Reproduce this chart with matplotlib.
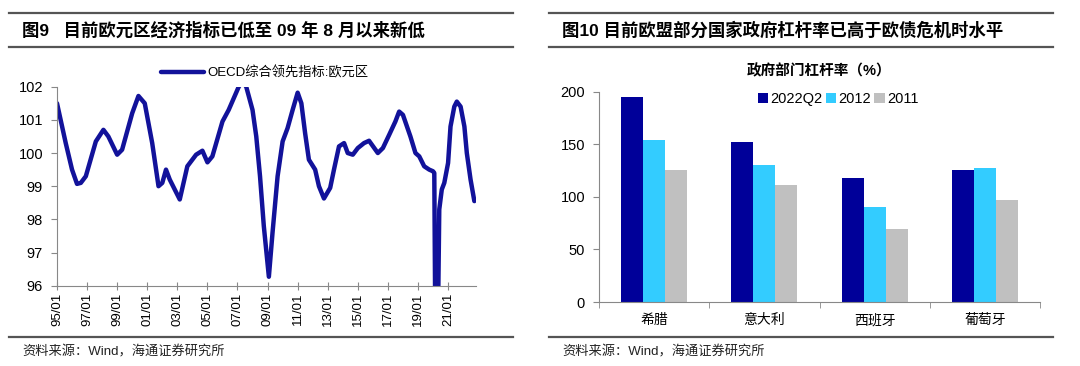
import matplotlib
matplotlib.use("Agg")
import matplotlib.pyplot as plt
import matplotlib.dates as mdates
import numpy as np
import pandas as pd

plt.rcParams['font.family'] = ['Liberation Sans', 'Noto Sans CJK SC']

## Data: OECD composite leading indicator, euro area
cli_dates = ["1995-01", "1995-08", "1996-01", "1996-05", "1996-08", "1996-12",
             "1997-08", "1998-02", "1998-06", "1999-01", "1999-05", "2000-01",
             "2000-06", "2000-11", "2001-05", "2001-10", "2002-01", "2002-04",
             "2002-07", "2003-03", "2003-09", "2004-04", "2004-09", "2005-01",
             "2005-05", "2006-01", "2006-06", "2007-02", "2007-05", "2007-08",
             "2008-01", "2008-04", "2008-07", "2008-10", "2009-02", "2009-05",
             "2009-09", "2010-01", "2010-05", "2010-09", "2011-01", "2011-04",
             "2011-07", "2011-10", "2012-03", "2012-06", "2012-10", "2013-03",
             "2013-06", "2013-10", "2014-02", "2014-05", "2014-09", "2015-01",
             "2015-06", "2015-10", "2016-05", "2016-09", "2017-02", "2017-07",
             "2017-10", "2018-01", "2018-07", "2018-11", "2019-02", "2019-06",
             "2019-10", "2020-01", "2020-02", "2020-03", "2020-04", "2020-05",
             "2020-06", "2020-08", "2020-10", "2021-01", "2021-03", "2021-06",
             "2021-08", "2021-11", "2022-02", "2022-04", "2022-07", "2022-10"]
cli_values = [101.5, 100.3, 99.5, 99.07, 99.1, 99.3,
              100.35, 100.7, 100.5, 99.95, 100.1, 101.2,
              101.72, 101.5, 100.3, 99.0, 99.1, 99.5,
              99.2, 98.6, 99.6, 99.95, 100.07, 99.72,
              99.9, 100.95, 101.3, 102.0, 102.15, 102.0,
              101.3, 100.5, 99.3, 97.8, 96.27, 97.6,
              99.3, 100.35, 100.75, 101.3, 101.82, 101.5,
              100.6, 99.8, 99.5, 99.0, 98.63, 98.95,
              99.5, 100.2, 100.3, 100.0, 99.95, 100.15,
              100.3, 100.37, 100.0, 100.15, 100.55, 100.95,
              101.25, 101.15, 100.5, 100.0, 99.9, 99.6,
              99.5, 99.45, 99.4, 94.0, 93.0, 95.0,
              98.3, 98.9, 99.1, 99.7, 100.8, 101.4,
              101.55, 101.4, 100.8, 100.0, 99.2, 98.55]
tick_years = list(range(1995, 2022, 2))

## Data: government leverage (%)
countries = ["希腊", "意大利", "西班牙", "葡萄牙"]
lev_2022q2 = [194.6, 151.9, 118.4, 125.9]
lev_2012 = [154.1, 130.4, 90.8, 127.2]
lev_2011 = [125.3, 111.7, 69.6, 96.8]
series_names = ["2022Q2", "2012", "2011"]

W, H = 1080, 366
fig = plt.figure(figsize=(W / 100, H / 100), dpi=100)


def box(x0, x1, ytop, ybot):
    return [x0 / W, (H - ybot) / H, (x1 - x0) / W, (ybot - ytop) / H]


def hline(x0, x1, y):
    fig.add_artist(plt.Line2D([x0 / W, x1 / W], [(H - y) / H] * 2,
                              color="#555555", lw=1.6))


# frame lines, titles, sources
for x0, x1 in [(9, 513), (549, 1053)]:
    hline(x0, x1, 13)
    hline(x0, x1, 47)
    hline(x0, x1, 337)

fig.text(22 / W, 1 - 30 / H, "图9   目前欧元区经济指标已低至 09 年 8 月以来新低",
         fontsize=12.5, fontweight="bold", va="center")
fig.text(562 / W, 1 - 30 / H, "图10 目前欧盟部分国家政府杠杆率已高于欧债危机时水平",
         fontsize=12.5, fontweight="bold", va="center")
fig.text(22 / W, 1 - 352 / H, "资料来源：Wind，海通证券研究所", fontsize=9.5,
         va="center", color="#222222")
fig.text(562 / W, 1 - 352 / H, "资料来源：Wind，海通证券研究所", fontsize=9.5,
         va="center", color="#222222")

### Left chart ###
ax1 = fig.add_axes(box(57, 476, 86.7, 285.7))
dates = pd.to_datetime(cli_dates)
ax1.plot(dates, cli_values, color="#12129A", lw=3.2, solid_joinstyle="round",
         solid_capstyle="round", label="OECD综合领先指标:欧元区")
ax1.set_ylim(96, 102)
ax1.set_xlim(pd.Timestamp("1995-01-01"), pd.Timestamp("2022-11-10"))
ax1.set_yticks(range(96, 103))
ax1.set_xticks([pd.Timestamp(f"{y}-01-01") for y in tick_years])
ax1.xaxis.set_major_formatter(mdates.DateFormatter("%y/%m"))
ax1.tick_params(axis="x", rotation=90, labelsize=9.5, direction="inout",
                length=6, color="#888888", pad=2)
ax1.tick_params(axis="y", labelsize=10.5, direction="out", length=4,
                color="#888888", pad=6)
for s in ["top", "right"]:
    ax1.spines[s].set_visible(False)
for s in ["left", "bottom"]:
    ax1.spines[s].set_color("#888888")
ax1.legend(loc="center", bbox_to_anchor=(265 / W, 1 - 73 / H),
           bbox_transform=fig.transFigure, frameon=False, fontsize=9.5,
           handlelength=3.2, handletextpad=0.3, borderaxespad=0)

### Right chart ###
ax2 = fig.add_axes(box(599, 1040, 91.7, 302))
x = np.arange(len(countries))
bw = 0.2
colors = ["#000099", "#33CCFF", "#C0C0C0"]
for i, (vals, name) in enumerate(zip([lev_2022q2, lev_2012, lev_2011], series_names)):
    ax2.bar(x + (i - 1) * bw, vals, width=bw, color=colors[i], label=name)
ax2.set_xlim(-0.5, len(countries) - 0.5)
ax2.set_ylim(0, 200)
ax2.set_yticks(range(0, 201, 50))
ax2.set_xticks(x)
ax2.set_xticklabels(countries, fontsize=10)
ax2.set_xticks(np.arange(-0.5, len(countries)), minor=True)
ax2.tick_params(axis="x", which="major", length=0, pad=8)
ax2.tick_params(axis="x", which="minor", length=4, color="#888888")
ax2.tick_params(axis="y", labelsize=10.5, length=4, color="#888888", pad=6)
for s in ["top", "right"]:
    ax2.spines[s].set_visible(False)
for s in ["left", "bottom"]:
    ax2.spines[s].set_color("#888888")
ax2.set_title("政府部门杠杆率（%）", fontsize=10.5, fontweight="bold", pad=12)
ax2.legend(loc="center", bbox_to_anchor=(838 / W, 1 - 99 / H),
           bbox_transform=fig.transFigure, frameon=False, ncol=3, fontsize=10.5,
           handlelength=0.7, handleheight=0.7, handletextpad=0.15,
           columnspacing=0.25, borderaxespad=0)

fig.savefig("out.png", dpi=100)
